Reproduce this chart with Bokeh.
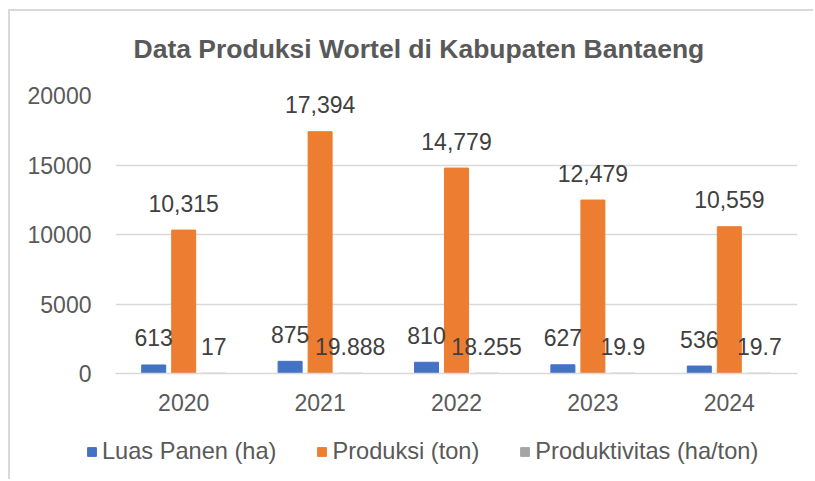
from bokeh.plotting import figure
from bokeh.models import ColumnDataSource, FactorRange, FixedTicker, Legend, LegendItem, Range1d
from bokeh.transform import dodge
from bokeh.embed import file_html
from bokeh.resources import INLINE

years = ["2020", "2021", "2022", "2023", "2024"]
luas_panen = [613, 875, 810, 627, 536]
produksi = [10315, 17394, 14779, 12479, 10559]
produktivitas = [17, 19.888, 18.255, 19.9, 19.7]
luas_labels = ["613", "875", "810", "627", "536"]
produksi_labels = ["10,315", "17,394", "14,779", "12,479", "10,559"]
produktivitas_labels = ["17", "19.888", "18.255", "19.9", "19.7"]
series_names = ["Luas Panen (ha)", "Produksi (ton)", "Produktivitas (ha/ton)"]
y_ticks = [0, 5000, 10000, 15000, 20000]

src = ColumnDataSource(dict(
    years=years, luas=luas_panen, prod=produksi, prodv=produktivitas,
    luas_l=luas_labels, prod_l=produksi_labels, prodv_l=produktivitas_labels,
))

FONT = "Liberation Sans"
TXT = "#595959"
LBL = "#404040"
COLORS = ["#4472C4", "#ED7D31", "#A5A5A5"]
BORDER = "#d9d9d9"

p = figure(x_range=FactorRange(*years, range_padding=0), y_range=(0, 20000),
           width=813, height=425, output_backend="svg", toolbar_location=None,
           min_border_left=115, min_border_right=16, min_border_top=95, min_border_bottom=52,
           title="Data Produksi Wortel di Kabupaten Bantaeng")
# chart-area border (top and left edges visible in the window)
p.border_fill_color = None
p.background_fill_color = None
p.styles = {"background": (f"linear-gradient({BORDER},{BORDER}) 8px 9px / 2px 100% no-repeat, "
                           f"linear-gradient({BORDER},{BORDER}) 8px 9px / 100% 2px no-repeat, #ffffff")}

p.title.align = "left"
p.title.text_font = FONT
p.title.text_font_size = "26.5px"
p.title.text_font_style = "bold"
p.title.text_color = TXT
p.title.offset = 18
p.title.standoff = 63

W = 0.176
OFF = 0.22
for off, col, c in [(-OFF, "luas", COLORS[0]), (0, "prod", COLORS[1]), (OFF, "prodv", COLORS[2])]:
    p.vbar(x=dodge("years", off, range=p.x_range), top=col, width=W, source=src, color=c)

for off, col, lab in [(-OFF, "luas", "luas_l"), (0, "prod", "prod_l"), (OFF, "prodv", "prodv_l")]:
    p.text(x=dodge("years", off, range=p.x_range), y=col, text=lab, source=src,
           text_align="center", text_baseline="alphabetic", y_offset=-27,
           text_font={"value": FONT}, text_font_size={"value": "23px"}, text_color=LBL)

p.yaxis.ticker = FixedTicker(ticks=y_ticks)
p.yaxis.axis_line_color = None
p.yaxis.major_tick_line_color = None
p.yaxis.minor_tick_line_color = None
p.yaxis.major_label_standoff = 18
p.yaxis.major_label_text_font = FONT
p.yaxis.major_label_text_font_size = "23px"
p.yaxis.major_label_text_color = TXT

p.xaxis.axis_line_color = BORDER
p.xaxis.axis_line_width = 1.5
p.xaxis.major_tick_line_color = None
p.xaxis.minor_tick_line_color = None
p.xaxis.major_label_standoff = 14
p.xaxis.major_label_text_font = FONT
p.xaxis.major_label_text_font_size = "23px"
p.xaxis.major_label_text_color = TXT

p.xgrid.grid_line_color = None
p.ygrid.grid_line_color = BORDER
p.ygrid.grid_line_width = 1.5
p.outline_line_color = None

# legend strip below the chart (separate root, so its frame is not aligned)
leg = figure(width=813, height=54, x_range=Range1d(0, 1), y_range=Range1d(0, 1),
             output_backend="svg", toolbar_location=None,
             min_border_left=0, min_border_right=0, min_border_top=0, min_border_bottom=0)
leg.border_fill_color = None
leg.background_fill_color = None
leg.styles = {"background": f"linear-gradient({BORDER},{BORDER}) 8px 0px / 2px 100% no-repeat, #ffffff"}
leg.axis.visible = False
leg.grid.grid_line_color = None
leg.outline_line_color = None
items = []
for name, c in zip(series_names, COLORS):
    r = leg.vbar(x=[-5], top=[-5], bottom=[-6], width=0.1, color=c)
    items.append(LegendItem(label=name, renderers=[r]))
legend = Legend(items=items, orientation="horizontal", location=(86, 14))
legend.glyph_width = 11
legend.glyph_height = 11
legend.label_standoff = 5
legend.spacing = 40
legend.padding = 0
legend.margin = 0
legend.border_line_color = None
legend.background_fill_alpha = 0
legend.label_text_font = FONT
legend.label_text_font_size = "23.6px"
legend.label_text_color = TXT
leg.add_layout(legend, "center")

open("out.html", "w").write(file_html([p, leg], INLINE))
